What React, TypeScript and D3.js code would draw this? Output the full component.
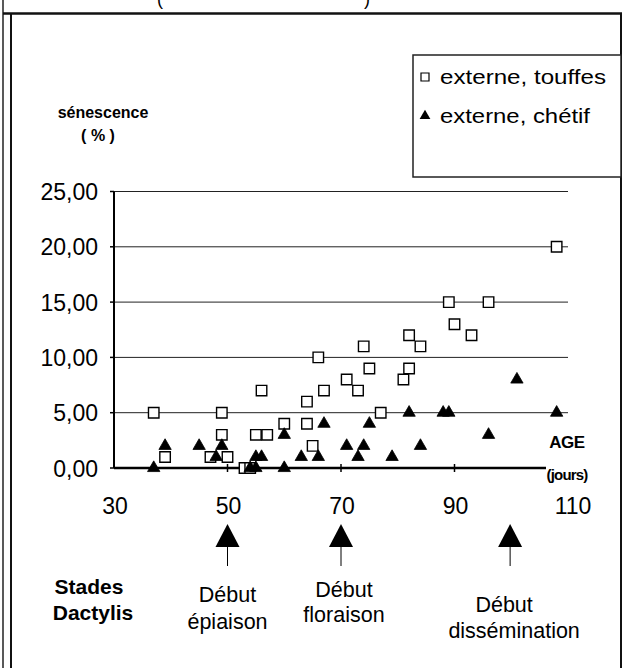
import React from 'react';
import * as d3 from 'd3';

const touffesAge = [37, 39, 47, 49, 49, 50, 53, 54, 55, 57, 56, 60, 64, 64, 65, 66, 67, 71, 73, 74, 75, 77, 81, 82, 82, 84, 89, 90, 93, 96, 108];
const touffesSen = [5, 1, 1, 5, 3, 1, 0, 0, 3, 3, 7, 4, 4, 6, 2, 10, 7, 8, 7, 11, 9, 5, 8, 9, 12, 11, 15, 13, 12, 15, 20];
const chetifAge = [37, 39, 45, 48, 49, 54, 55, 55, 56, 60, 60, 63, 66, 67, 71, 73, 74, 75, 79, 82, 84, 88, 89, 96, 101, 108];
const chetifSen = [0, 2, 2, 1, 2, 0, 0, 1, 1, 3, 0, 1, 1, 4, 2, 1, 2, 4, 1, 5, 2, 5, 5, 3, 8, 5];
const yTicks = [0, 5, 10, 15, 20, 25];
const xTicks = [30, 50, 70, 90, 110];
const legendLabels = ['externe, touffes', 'externe, chétif'];
const stageAges = [50, 70, 99.8];
const stageLabels = [['Début', 'épiaison'], ['Début', 'floraison'], ['Début', 'dissémination']];
const yTitle = ['sénescence', '( % )'];
const xTitle = ['AGE', '(jours)'];
const stadesTitle = ['Stades', 'Dactylis'];

const W = 625, H = 668;
const FONT = "'Liberation Sans', Arial, Helvetica, sans-serif";
// layout offsets for stage labels (dx of each line, baselines)
const stageLayout = [
  { dx: [0, 0], y: [602, 629] },
  { dx: [3, 3], y: [597, 622] },
  { dx: [-6, 4], y: [612, 638] },
];

export default function App() {
  const x = d3.scaleLinear().domain([30, 110]).range([114, 568]);
  const y = d3.scaleLinear().domain([0, 25]).range([468, 191.5]);
  const sq = d3.symbol(d3.symbolSquare, 110)() as string;
  const tri = d3.symbol(d3.symbolTriangle, 66)() as string;
  const fmt = (v: number) => d3.format('.2f')(v).replace('.', ',');
  const touffes = touffesAge.map((a, i) => ({ a, v: touffesSen[i] }));
  const chetif = chetifAge.map((a, i) => ({ a, v: chetifSen[i] }));

  return (
    <svg width={W} height={H} style={{ position: 'absolute', left: 0, top: 0, background: '#fff' }} fontFamily={FONT}>
      <rect x={0} y={0} width={W} height={H} fill="#fff" />
      {/* frame */}
      <line x1={3} y1={0} x2={3} y2={H} stroke="#222" strokeWidth={1.5} />
      <line x1={11} y1={13} x2={11} y2={H} stroke="#111" strokeWidth={2} />
      <line x1={3} y1={13.5} x2={622} y2={13.5} stroke="#111" strokeWidth={2.5} />
      <line x1={621} y1={13} x2={621} y2={H} stroke="#111" strokeWidth={2} />
      <text x={160} y={5} fontSize={18} textAnchor="middle">(</text>
      <text x={367} y={5} fontSize={18} textAnchor="middle">)</text>

      {/* gridlines */}
      {yTicks.filter(t => t > 0).map(t => (
        <line key={'g' + t} x1={x(30)} x2={x(110)} y1={y(t)} y2={y(t)} stroke="#222" strokeWidth={1} />
      ))}
      {/* y axis */}
      <line x1={x(30)} x2={x(30)} y1={y(25)} y2={y(0)} stroke="#000" strokeWidth={2} />
      {yTicks.map(t => (
        <line key={'yt' + t} x1={x(30) - 4} x2={x(30)} y1={y(t)} y2={y(t)} stroke="#000" strokeWidth={1.5} />
      ))}
      {yTicks.map(t => (
        <text key={'yl' + t} x={98} y={y(t) + 8.5} fontSize={23} textAnchor="end">{fmt(t)}</text>
      ))}
      {/* x axis */}
      <line x1={x(30)} x2={546} y1={y(0)} y2={y(0)} stroke="#000" strokeWidth={2.5} />
      {xTicks.filter(t => t > 30 && t < 110).map(t => (
        <line key={'xt' + t} x1={x(t)} x2={x(t)} y1={y(0) - 4} y2={y(0) + 4} stroke="#000" strokeWidth={1.5} />
      ))}
      {xTicks.map(t => (
        <text key={'xl' + t} x={x(t) + (t === 110 ? 5 : 1)} y={514} fontSize={23} textAnchor="middle">{t}</text>
      ))}

      {/* axis titles */}
      <text x={103} y={118} fontSize={16} fontWeight="bold" textAnchor="middle">{yTitle[0]}</text>
      <text x={98} y={141} fontSize={16} fontWeight="bold" textAnchor="middle">{yTitle[1]}</text>
      <text x={567} y={448} fontSize={17} fontWeight="bold" textAnchor="middle" letterSpacing={-0.5}>{xTitle[0]}</text>
      <text x={567} y={480} fontSize={15} fontWeight="bold" textAnchor="middle" letterSpacing={-0.8}>{xTitle[1]}</text>

      {/* points */}
      {touffes.map((d, i) => (
        <path key={'s' + i} d={sq} transform={`translate(${x(d.a)},${y(d.v)})`} fill="#fff" stroke="#000" strokeWidth={1.4} />
      ))}
      {chetif.map((d, i) => (
        <path key={'t' + i} d={tri} transform={`translate(${x(d.a)},${y(d.v)})`} fill="#000" stroke="#000" strokeWidth={0.8} />
      ))}

      {/* legend */}
      <rect x={413} y={55} width={208} height={122} fill="#fff" stroke="#222" strokeWidth={1.5} />
      <path d={d3.symbol(d3.symbolSquare, 64)() as string} transform="translate(425,77)" fill="#fff" stroke="#000" strokeWidth={1.2} />
      <text x={440} y={84} fontSize={20} textLength={166} lengthAdjust="spacingAndGlyphs">{legendLabels[0]}</text>
      <path d={d3.symbol(d3.symbolTriangle, 50)() as string} transform="translate(425,116)" fill="#000" />
      <text x={440} y={123} fontSize={20} textLength={150} lengthAdjust="spacingAndGlyphs">{legendLabels[1]}</text>

      {/* stage arrows */}
      {stageAges.map((a, i) => {
        const cx = x(a);
        const p = d3.path();
        p.moveTo(cx, 524);
        p.lineTo(cx - 12, 547);
        p.lineTo(cx + 12, 547);
        p.closePath();
        return (
          <g key={'a' + i}>
            <path d={p.toString()} fill="#000" />
            <line x1={cx} x2={cx} y1={547} y2={566} stroke="#000" strokeWidth={1} />
            {stageLabels[i].map((s, j) => (
              <text key={j} x={cx + stageLayout[i].dx[j]} y={stageLayout[i].y[j]} fontSize={21.5} textAnchor="middle">{s}</text>
            ))}
          </g>
        );
      })}
      <text x={89} y={594} fontSize={21} fontWeight="bold" textAnchor="middle">{stadesTitle[0]}</text>
      <text x={93} y={620} fontSize={21} fontWeight="bold" textAnchor="middle">{stadesTitle[1]}</text>
    </svg>
  );
}
